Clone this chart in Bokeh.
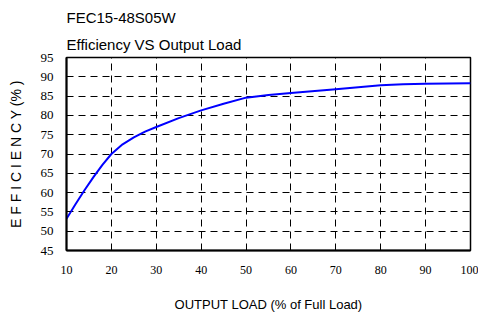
from bokeh.plotting import figure
from bokeh.models import Range1d, FixedTicker, Title
from bokeh.embed import file_html
from bokeh.resources import INLINE

load = [10, 12, 14, 16, 18, 20, 22.5, 25, 27.5, 30, 35, 40, 45, 50, 55, 60, 70, 80, 85, 90, 100]
efficiency = [53.2, 57.0, 60.6, 64.0, 67.2, 70.0, 72.5, 74.3, 75.8, 77.0, 79.3, 81.3, 83.0, 84.6, 85.3, 85.8, 86.8, 87.8, 88.1, 88.2, 88.3]
x_ticks = [10, 20, 30, 40, 50, 60, 70, 80, 90, 100]
y_ticks = [45, 50, 55, 60, 65, 70, 75, 80, 85, 90, 95]

p = figure(width=478, height=314, output_backend="svg", toolbar_location=None,
           x_range=Range1d(10, 100), y_range=Range1d(45, 95),
           min_border_left=66, min_border_right=8, min_border_top=57, min_border_bottom=56)

p.line(load, efficiency, line_color="#0000FF", line_width=2)

p.xaxis.ticker = FixedTicker(ticks=x_ticks)
p.yaxis.ticker = FixedTicker(ticks=y_ticks)
for ax in (p.xaxis, p.yaxis):
    ax.major_tick_in = 4
    ax.major_tick_out = 0
    ax.minor_tick_line_color = None
    ax.axis_line_color = "black"
    ax.axis_line_width = 2
    ax.major_tick_line_color = "black"
    ax.major_label_text_font = "Liberation Serif"
    ax.major_label_text_color = "black"
    ax.axis_label_text_font = "Liberation Sans"
    ax.axis_label_text_font_style = "normal"
    ax.axis_label_text_color = "black"
p.xaxis.major_label_text_font_size = "12px"
p.yaxis.major_label_text_font_size = "13px"

p.xaxis.major_label_standoff = 15
p.xaxis.axis_label = "OUTPUT LOAD (% of Full Load)"
p.xaxis.axis_label_text_font_size = "13px"
p.xaxis.axis_label_standoff = 20
p.yaxis.major_label_standoff = 13
p.yaxis.axis_label = "E F F I C I E N C Y (% )"
p.yaxis.axis_label_text_font_size = "14px"
p.yaxis.axis_label_standoff = 14

p.grid.grid_line_color = "black"
p.grid.grid_line_dash = "7 5"
p.grid.grid_line_width = 1
p.outline_line_color = "black"
p.outline_line_width = 1.5

p.title.visible = False
p.add_layout(Title(text="Efficiency VS Output Load", text_font="Liberation Sans", text_font_size="15px",
                   text_font_style="normal", text_color="black", align="left", standoff=10), "above")
p.add_layout(Title(text="FEC15-48S05W", text_font="Liberation Sans", text_font_size="15px",
                   text_font_style="normal", text_color="black", align="left", standoff=5), "above")

open("out.html", "w").write(file_html(p, INLINE))
